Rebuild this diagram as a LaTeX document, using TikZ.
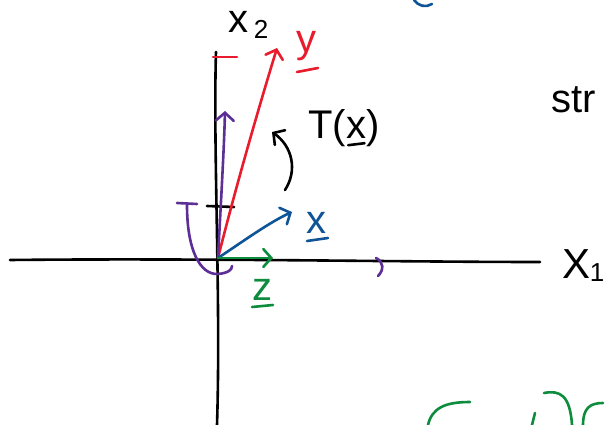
\documentclass[tikz,border=0pt]{standalone}
\usepackage{fontspec}
\setmainfont{Liberation Sans}
\usetikzlibrary{arrows.meta}
\definecolor{pred}{RGB}{232,28,44}
\definecolor{ppurple}{RGB}{92,46,150}
\definecolor{pblue}{RGB}{14,84,150}
\definecolor{pgreen}{RGB}{14,140,62}
\begin{document}
\begin{tikzpicture}[x=1pt,y=-1pt,line cap=round,line join=round,
  pen/.style={line width=2.6pt},
  arr/.style={pen,-{Straight Barb[length=8pt,width=18pt,line cap=round]}},
  lbl/.style={inner sep=0pt,font=\fontsize{40}{42}\selectfont},
  sub/.style={inner sep=0pt,font=\fontsize{26}{28}\selectfont}]
\useasboundingbox (0,0) rectangle (605,425);
\fill[white] (0,0) rectangle (605,425);

% named points
\coordinate (O) at (218,258);
\coordinate (xl) at (10,260);
\coordinate (xr) at (540,262);
\coordinate (yt) at (216,52);
\coordinate (yb) at (217,425);
\coordinate (ytip) at (277,48);
\coordinate (ptip) at (225,111);
\coordinate (btip) at (292,212);
\coordinate (gtip) at (273,258);

% axes
\draw[pen] (xl) .. controls (200,258) and (400,262) .. (xr);
\draw[pen] (yt) .. controls (213,150) and (221,300) .. (yb);

% ticks
\draw[pen,pred] (213,57) -- (237,57);
\draw[pen] (207,206) -- (234,207);

% vectors
\draw[arr,pred] (O) .. controls (235,190) and (258,110) .. (ytip);
\draw[arr,ppurple] (O) .. controls (221,200) and (224,150) .. (ptip);
\draw[arr,pblue] (O) .. controls (245,240) and (270,222) .. (btip);
\draw[arr,pgreen] (O) -- (gtip);

% curved arrow T
\draw[arr] (285,190) .. controls (298,170) and (292,146) .. (272,132);

% purple rotation mark
\draw[pen,ppurple] (177,203) -- (197,204);
\draw[pen,ppurple] (187,205) .. controls (187,250) and (200,275) .. (218,274)
  .. controls (228,273) and (232,270) .. (232,266);
\draw[pen,ppurple] (376,258) .. controls (384,262) and (384,270) .. (378,276);

% labels
\node[lbl] (x2a) at (238,22) {x};
\node[sub] (x2b) at (261,29) {2};
\node[lbl,text=pred] (ylab) at (306,46) {y};
\draw[pen,pred] (297,72) -- (318,68);
\node[lbl,anchor=base west] (T1) at (308,139) {T(};
\node[lbl,anchor=base west] (T2) at (T1.base east) {x};
\node[lbl,anchor=base west] (T3) at (T2.base east) {)};
\draw[pen] ([shift={(2,6)}]T2.south west) -- ([shift={(-2,4)}]T2.south east);
\node[lbl,text=pblue] (xlab) at (316,223) {x};
\draw[pen,pblue] (307,241) -- (328,238);
\node[lbl,text=pgreen] (zlab) at (262,290) {z};
\draw[pen,pgreen] (252,307) -- (273,305);
\node[lbl,font=\fontsize{42}{44}\selectfont] (x1a) at (576,264) {X};
\node[sub] (x1b) at (597,273) {1};
\node[lbl,anchor=base west] (str) at (551,113) {str};

% edge fragments
\draw[pen,pblue] (414,0) .. controls (418,6) and (426,8) .. (432,4);
\draw[pen,pgreen] (470,402) .. controls (445,402) and (432,408) .. (428,425);
\draw[pen,pgreen] (535,413) -- (532,425);
\draw[pen,pgreen] (544,393) .. controls (560,390) and (570,395) .. (572,425);
\draw[pen,pgreen] (603,403) .. controls (590,403) and (583,408) .. (583,425);
\end{tikzpicture}
\end{document}
